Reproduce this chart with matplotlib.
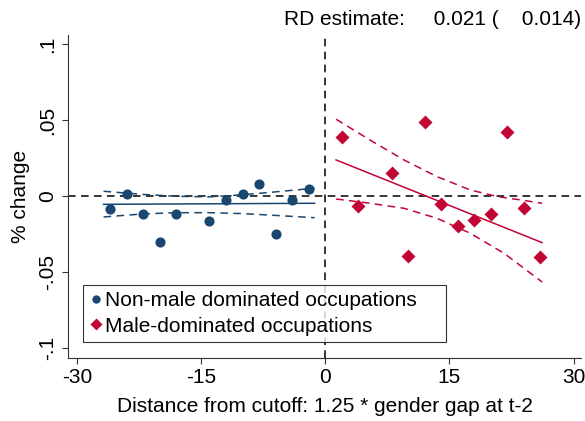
import matplotlib
matplotlib.use("Agg")
import matplotlib.pyplot as plt
from matplotlib.lines import Line2D

plt.rcParams['font.family'] = ['Liberation Sans', 'DejaVu Sans']

# Binned means
x_left = [-26, -24, -22, -20, -18, -14, -12, -10, -8, -6, -4, -2]
y_left = [-0.0088, 0.0015, -0.0118, -0.0300, -0.0118, -0.0166, -0.0028, 0.0013, 0.0079, -0.0250, -0.0026, 0.0044]
x_right = [2, 4, 8, 10, 12, 14, 16, 18, 20, 22, 24, 26]
y_right = [0.0390, -0.0068, 0.0149, -0.0397, 0.0487, -0.0053, -0.0195, -0.0160, -0.0118, 0.0419, -0.0077, -0.0401]

# Linear fits (endpoints)
fit_left_x = [-26.8, -1.3]
fit_left_y = [-0.0055, -0.0048]
fit_right_x = [1.3, 26.2]
fit_right_y = [0.0237, -0.0307]

# Confidence bands
ci_left_x = [-26.8, -22, -18, -14, -10, -6, -1.3]
ci_left_hi = [0.0031, 0.0010, -0.0002, -0.0006, 0.0008, 0.0027, 0.0051]
ci_left_lo = [-0.0138, -0.0118, -0.0110, -0.0110, -0.0116, -0.0128, -0.0143]
ci_right_hi_x = [1.3, 5.4, 9.5, 13.5, 17.5, 20.8, 23.6, 26.2]
ci_right_hi = [0.0505, 0.0368, 0.0237, 0.0127, 0.0040, -0.0004, -0.0026, -0.0048]
ci_right_lo_x = [1.3, 5.4, 9.5, 13.5, 17.5, 21.6, 25.6, 26.2]
ci_right_lo = [-0.0020, -0.0048, -0.0081, -0.0147, -0.0245, -0.0377, -0.0541, -0.0566]

xticks = [-30, -15, 0, 15, 30]
yticks = [0.1, 0.05, 0, -0.05, -0.1]
ytick_labels = ['.1', '.05', '0', '-.05', '-.1']
legend_labels = ['Non-male dominated occupations    ', 'Male-dominated occupations']

blue = '#1a476f'
red = '#c10534'
fs = 15

fig = plt.figure(figsize=(5.85, 4.21), dpi=100)
ax = fig.add_axes([68/585, 1-358/421, 513/585, 323/421])

dash = (0, (5, 3.5))
ax.axhline(0, color='black', lw=1.1, ls=dash, zorder=1)
ax.axvline(0, color='black', lw=1.1, ls=dash, zorder=1)

ax.plot(fit_left_x, fit_left_y, color=blue, lw=1.1, zorder=2)
ax.plot(ci_left_x, ci_left_hi, color=blue, lw=1.1, ls=dash, zorder=2)
ax.plot(ci_left_x, ci_left_lo, color=blue, lw=1.1, ls=dash, zorder=2)
ax.plot(fit_right_x, fit_right_y, color=red, lw=1.1, zorder=2)
ax.plot(ci_right_hi_x, ci_right_hi, color=red, lw=1.1, ls=dash, zorder=2)
ax.plot(ci_right_lo_x, ci_right_lo, color=red, lw=1.1, ls=dash, zorder=2)

ax.plot(x_left, y_left, 'o', color=blue, ms=7.3, mec='none', zorder=3)
ax.plot(x_right, y_right, 'D', color=red, ms=6.8, mec='none', zorder=3)

ax.set_xlim(-31.1, 30.9)
ax.set_ylim(-0.1066, 0.1059)
ax.set_xticks(xticks)
ax.set_xticklabels([str(t) for t in xticks], fontsize=fs)
ax.set_yticks(yticks)
ax.set_yticklabels(ytick_labels, fontsize=fs, rotation=90, va='center')
ax.tick_params(length=4.5, width=0.8, color='#333333', pad=3)
for s in ['top', 'right']:
    ax.spines[s].set_visible(False)
for s in ['left', 'bottom']:
    ax.spines[s].set_color('#333333')
    ax.spines[s].set_linewidth(0.8)

ax.set_xlabel('Distance from cutoff: 1.25 * gender gap at t-2', fontsize=fs, labelpad=7)
ax.set_ylabel('% change', fontsize=fs, labelpad=6)

handles = [Line2D([], [], marker='o', color=blue, ls='none', ms=6, mec='none'),
           Line2D([], [], marker='D', color=red, ls='none', ms=6, mec='none')]
leg = ax.legend(handles, legend_labels,
                loc='lower left', bbox_to_anchor=(15/513, 16/323), borderaxespad=0,
                fontsize=fs, frameon=True, fancybox=False, edgecolor='black',
                handlelength=0.6, handletextpad=0.15, borderpad=0.3, labelspacing=0.3)
leg.get_frame().set_linewidth(0.8)

fig.text(581/585, 1-25/421, 'RD estimate:     0.021 (    0.014)', fontsize=fs, ha='right', va='baseline')

fig.savefig('out.png', dpi=100)
